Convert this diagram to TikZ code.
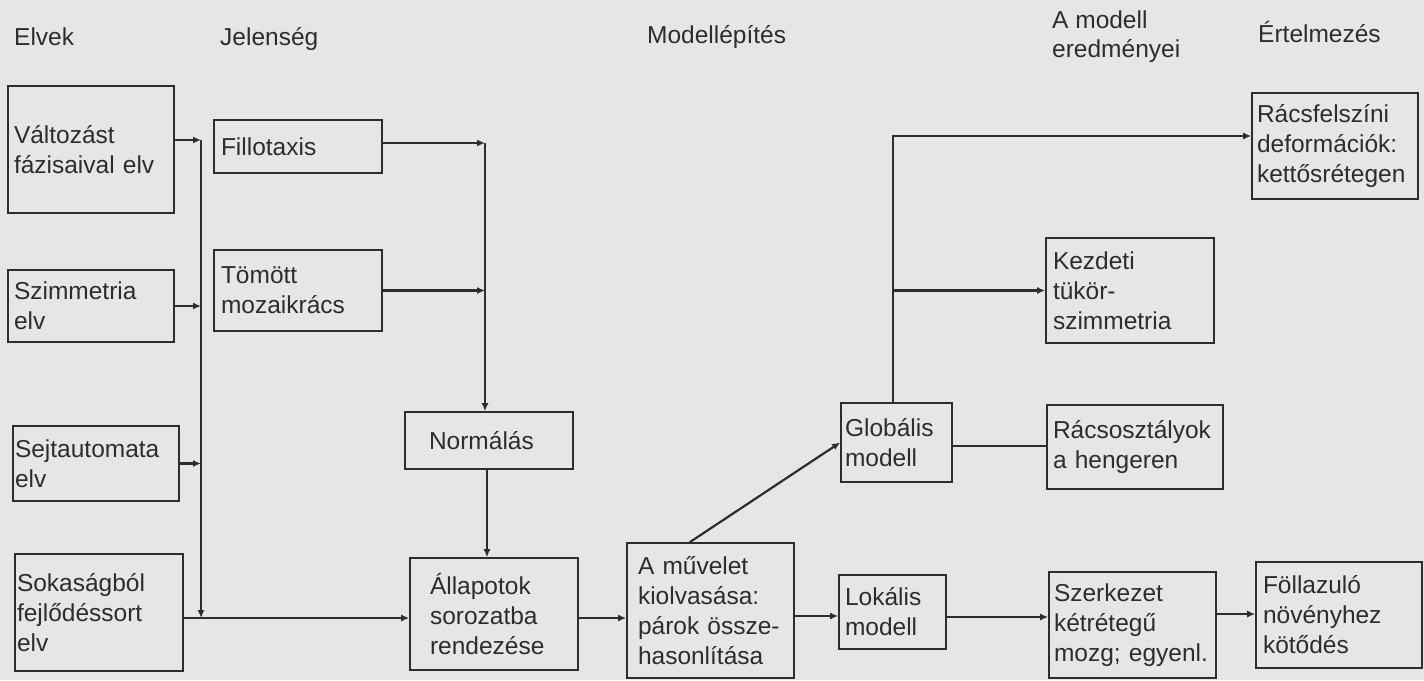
\documentclass[tikz,border=0pt]{standalone}
\usepackage{fontspec}
\setmainfont{Liberation Sans}
\usetikzlibrary{arrows.meta,calc}
\definecolor{bg}{RGB}{230,230,228}
\definecolor{ink}{RGB}{45,45,45}
\begin{document}
\begin{tikzpicture}[x=1pt,y=-1pt,
  box/.style={draw=ink, line width=1.6pt, align=left, inner ysep=0pt, text=ink,
    font=\fontsize{24.5}{30}\selectfont},
  conn/.style={draw=ink, line width=2.2pt},
  arr/.style={conn, -{Latex[length=8pt,width=7pt]}},
  hdr/.style={anchor=base west, inner sep=0pt, text=ink, font=\fontsize{24.5}{30}\selectfont}]
\fill[bg] (0,0) rectangle (1424,680);
\useasboundingbox (0,0) rectangle (1424,680);

% headers
\node[hdr] (h1) at (14,45) {Elvek};
\node[hdr] (h2) at (220,45) {Jelenség};
\node[hdr] (h3) at (647,43) {Modellépítés};
\node[hdr] (h4a) at (1052,28) {A modell};
\node[hdr] (h4b) at (1052,57) {eredményei};
\node[hdr] (h5) at (1258,42) {Értelmezés};

% Elvek
\node[box, minimum width=166pt, minimum height=127pt, text width=154pt, inner xsep=6pt] (v1) at (91,149.5) {Változást\\fázisaival~elv};
\node[box, minimum width=166pt, minimum height=72pt, text width=154pt, inner xsep=6pt] (v2) at (91,306) {Szimmetria\\elv};
\node[box, minimum width=166pt, minimum height=75pt, text width=162pt, inner xsep=2pt] (v3) at (96,463.5) {Sejtautomata\\elv};
\node[box, minimum width=168pt, minimum height=117pt, text width=164pt, inner xsep=2pt] (v4) at (99,612.5) {Sokaságból\\fejlődéssort\\elv};

% Jelenseg
\node[box, minimum width=168pt, minimum height=53pt, text width=154pt, inner xsep=7pt] (j1) at (298,146.5) {Fillotaxis};
\node[box, minimum width=168pt, minimum height=81pt, text width=154pt, inner xsep=7pt] (j2) at (298,290.5) {Tömött\\mozaikrács};

% Modellepites
\node[box, minimum width=168pt, minimum height=57pt, text width=120pt, inner xsep=24pt] (norm) at (489,440.5) {Normálás};
\node[box, minimum width=168pt, minimum height=112pt, text width=128pt, inner xsep=20pt] (all) at (494,614) {Állapotok\\sorozatba\\rendezése};
\node[box, minimum width=167pt, minimum height=135pt, text width=145pt, inner xsep=11pt] (muv) at (710.5,610.5) {A~művelet\\kiolvasása:\\párok~össze-\\hasonlítása};
\node[box, minimum width=111pt, minimum height=79pt, text width=103pt, inner xsep=4pt] (glob) at (896.5,442.5) {Globális\\modell};
\node[box, minimum width=107pt, minimum height=74pt, text width=95pt, inner xsep=6pt] (lok) at (892.5,612) {Lokális\\modell};

% A modell eredmenyei
\node[box, minimum width=176pt, minimum height=84pt, text width=164pt, inner xsep=6pt] (racs) at (1135,447) {Rácsosztályok\\a~hengeren};
\node[box, minimum width=168pt, minimum height=105pt, text width=154pt, inner xsep=7pt] (kezd) at (1130,290.5) {Kezdeti\\tükör-\\szimmetria};
\node[box, minimum width=167pt, minimum height=106pt, text width=157pt, inner xsep=5pt] (szerk) at (1132.5,625) {Szerkezet\\kétrétegű\\mozg;~egyenl.};

% Ertelmezes
\node[box, minimum width=166pt, minimum height=106pt, text width=156pt, inner xsep=5pt] (racsf) at (1335,146) {Rácsfelszíni\\deformációk:\\kettősrétegen};
\node[box, minimum width=166pt, minimum height=106pt, text width=152pt, inner xsep=7pt] (fol) at (1339,615) {Föllazuló\\növényhez\\kötődés};

% helper coordinates
\coordinate (bT) at (201,140);
\coordinate (bB) at (201,618);
\coordinate (jT) at (485,143);
\coordinate (nx) at (487,0);
\coordinate (lm) at (0,616);
\coordinate (ls) at (0,617);
\coordinate (lf) at (0,614);
\coordinate (lr) at (0,446);
\coordinate (gU) at (893,136);

% left bus
\draw[arr] (v1.east |- bT) -- (bT);
\draw[arr] (bT) -- (bB);
\draw[arr] (v2.east) -- (v2.east -| bT);
\draw[arr] (v3.east) -- (v3.east -| bT);
\draw[arr] (v4.east |- bB) -- (all.west |- bB);

% phenomenon bus
\draw[arr] (j1.east |- jT) -- (jT);
\draw[arr] (j2.east) -- (j2.east -| jT);
\draw[arr] (jT) -- (jT |- norm.north);
\draw[arr] (norm.south -| nx) -- (all.north -| nx);

% model building
\draw[arr] (all.east |- bB) -- (muv.west |- bB);
\draw[arr] ($(muv.north west)!0.377!(muv.north east)$) -- (glob.west);
\draw[arr] (muv.east |- lm) -- (lok.west |- lm);
\draw[arr] (lok.east |- ls) -- (szerk.west |- ls);
\draw[arr] (szerk.east |- lf) -- (fol.west |- lf);
\draw[conn] (glob.east |- lr) -- (racs.west |- lr);
\draw[arr] (glob.north -| gU) -- (gU) -- (gU -| racsf.west);
\draw[arr] (gU |- kezd.west) -- (kezd.west);
\end{tikzpicture}
\end{document}
